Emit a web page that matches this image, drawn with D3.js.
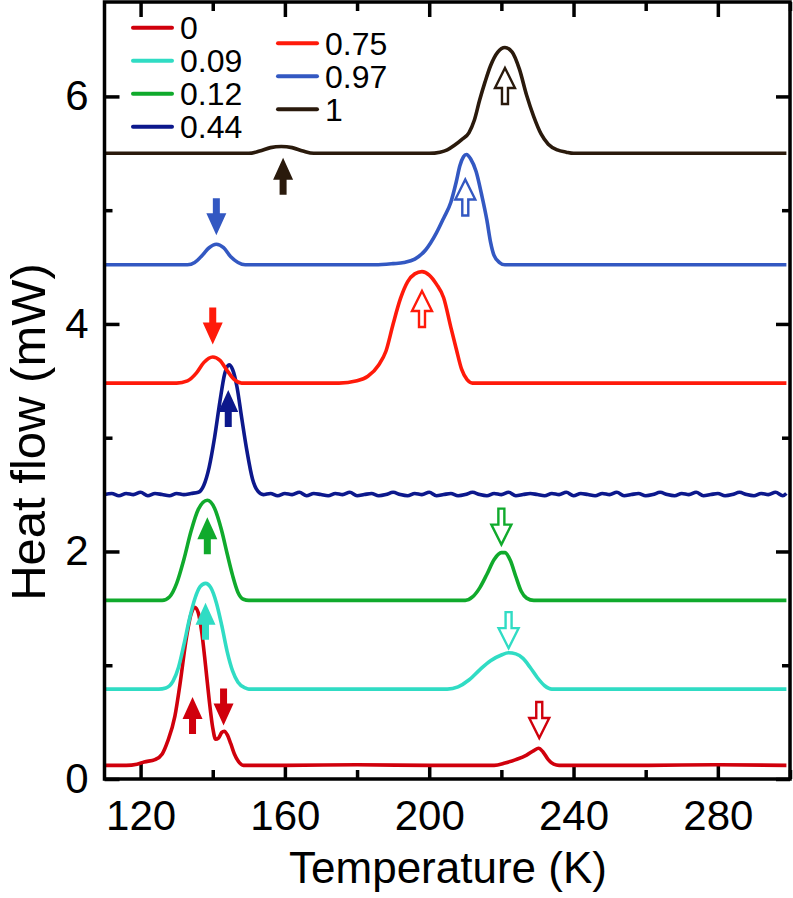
<!DOCTYPE html>
<html>
<head>
<meta charset="utf-8">
<script src="https://cdn.jsdelivr.net/npm/d3@7"></script>
<style>
  body { margin: 0; background: #fff; }
  text { font-family: "Liberation Sans", Arial, sans-serif; fill: #000; }
</style>
</head>
<body>
<svg id="chart" width="793" height="898"></svg>
<script>
// DSC heat flow curves, offset per composition

var labels = ['0', '0.09', '0.12', '0.44', '0.75', '0.97', '1'];
var colors = ['#d0000c', '#30dcc4', '#10aa2c', '#0c188c', '#ff1a0a', '#3358c2', '#2a1a0c'];

var s0 = [[110,0.12],[116,0.12],[119,0.13],[121,0.15],[124,0.17],[126,0.22],[127.5,0.33],[129.5,0.55],[131,0.85],[132.5,1.2],[134,1.45],[135,1.51],[136,1.46],[137,1.28],[138,1.00],[139,0.70],[140,0.45],[140.8,0.35],[141.6,0.36],[142.5,0.41],[143.2,0.42],[144,0.39],[145,0.31],[146,0.22],[147,0.16],[148.5,0.12],[160,0.12],[180,0.125],[200,0.12],[218,0.12],[221,0.14],[224,0.17],[227,0.21],[229,0.25],[230.3,0.27],[231.5,0.24],[233,0.17],[234.5,0.13],[236,0.12],[260,0.12],[280,0.125],[299,0.12]];
var s1 = [[110,0.79],[125,0.79],[127,0.80],[129,0.86],[130.5,0.98],[132,1.18],[133.5,1.40],[135,1.58],[136.5,1.69],[138,1.72],[139.5,1.68],[141,1.55],[142.5,1.35],[144,1.12],[145.5,0.95],[147,0.85],[149,0.80],[150,0.79],[180,0.79],[205,0.79],[208,0.81],[211,0.87],[214,0.96],[217,1.04],[220,1.09],[222,1.11],[224,1.10],[226,1.06],[228,0.98],[230,0.89],[232,0.82],[234,0.79],[260,0.79],[299,0.79]];
var s2 = [[110,1.57],[126,1.57],[128,1.60],[130,1.72],[132,1.93],[134,2.18],[136,2.37],[138.5,2.45],[140.5,2.38],[142.5,2.18],[144,1.98],[145.5,1.79],[147,1.64],[148.5,1.58],[150,1.57],[180,1.57],[210,1.57],[212,1.60],[214,1.68],[216,1.80],[218,1.93],[220,1.99],[221,1.99],[222.5,1.92],[224,1.78],[225.5,1.65],[227,1.59],[229,1.57],[260,1.57],[299,1.57]];
var s3 = [[110,2.50],[112,2.51],[114,2.49],[116,2.51],[118,2.50],[120,2.52],[122,2.49],[124,2.51],[126,2.50],[128,2.49],[130,2.51],[132,2.50],[134,2.51],[136,2.52],[137.5,2.58],[139,2.74],[140.5,3.00],[142,3.32],[143.3,3.56],[144.5,3.64],[145.5,3.60],[146.7,3.45],[148,3.18],[149.5,2.88],[151,2.64],[152.5,2.53],[154,2.50],[156,2.51],[158,2.49],[160,2.51],[162,2.50],[164,2.52],[166,2.49],[168,2.51],[170,2.50],[172,2.49],[174,2.51],[176,2.50],[178,2.52],[180,2.49],[182,2.50],[184,2.51],[186,2.49],[188,2.50],[190,2.52],[192,2.50],[194,2.49],[196,2.51],[198,2.50],[200,2.52],[202,2.49],[204,2.50],[206,2.51],[208,2.49],[210,2.50],[212,2.52],[214,2.50],[216,2.49],[218,2.51],[220,2.50],[222,2.52],[224,2.49],[226,2.50],[228,2.51],[230,2.50],[232,2.49],[234,2.51],[236,2.50],[238,2.52],[240,2.49],[242,2.51],[244,2.50],[246,2.49],[248,2.51],[250,2.50],[252,2.52],[254,2.49],[256,2.50],[258,2.51],[260,2.49],[262,2.50],[264,2.52],[266,2.50],[268,2.49],[270,2.51],[272,2.50],[274,2.52],[276,2.49],[278,2.50],[280,2.51],[282,2.49],[284,2.50],[286,2.52],[288,2.50],[290,2.49],[292,2.51],[294,2.50],[296,2.52],[298,2.49],[299,2.51]];
var s4 = [[110,3.48],[130,3.48],[133,3.50],[135.5,3.57],[137.5,3.66],[140,3.71],[142,3.68],[144,3.59],[146,3.51],[148,3.48],[175,3.48],[180,3.50],[183,3.54],[186,3.64],[188,3.76],[190,4.00],[192,4.22],[194,4.37],[196,4.44],[198,4.46],[200,4.43],[202,4.35],[204,4.23],[206,3.97],[207.5,3.78],[209,3.60],[210.5,3.51],[212,3.48],[250,3.48],[299,3.48]];
var s5 = [[110,4.52],[133,4.52],[135,4.54],[137,4.60],[139,4.67],[141,4.70],[143,4.67],[145,4.59],[147,4.54],[149,4.52],[185,4.52],[190,4.53],[193,4.54],[196,4.57],[199,4.65],[202,4.80],[204,4.93],[206,5.07],[207.5,5.25],[208.5,5.39],[209.5,5.47],[210.3,5.49],[211.5,5.45],[213,5.34],[214.5,5.14],[216,4.91],[217,4.72],[218,4.60],[219.5,4.54],[221,4.52],[260,4.52],[299,4.52]];
var s6 = [[110,5.50],[130,5.50],[150,5.50],[153,5.52],[156,5.55],[159,5.56],[162,5.55],[165,5.52],[168,5.50],[200,5.50],[203,5.51],[205,5.53],[207,5.57],[209,5.62],[211,5.68],[212.5,5.79],[214,5.97],[215.5,6.13],[217,6.27],[219,6.39],[221,6.43],[223,6.39],[225,6.24],[227,6.01],[229,5.82],[231,5.67],[233,5.58],[235.5,5.53],[238,5.51],[240,5.50],[270,5.50],[299,5.50]];
var series = [s0, s1, s2, s3, s4, s5, s6];

// arrows: series index, temperature, tip value, direction (1 up, -1 down), filled
var arrowSeries = [6, 6, 5, 5, 4, 4, 3, 2, 2, 1, 1, 0, 0, 0];
var arrowT      = [159.5, 221, 141, 210, 140, 198, 144.3, 138.5, 220, 138, 222, 134.4, 143, 230.5];
var arrowTip    = [5.46, 6.25, 4.78, 5.27, 3.82, 4.29, 3.42, 2.30, 2.06, 1.55, 1.15, 0.72, 0.47, 0.36];
var arrowDir    = [1, 1, -1, 1, -1, 1, 1, 1, -1, 1, -1, 1, -1, -1];
var arrowFilled = [true, false, true, false, true, false, true, true, false, true, false, true, true, false];

var xMajor = [120, 160, 200, 240, 280];
var xMinor = [140, 180, 220, 260, 300];
var yMajor = [0, 2, 4, 6];
var yMinor = [1, 3, 5];

var svg = d3.select('#chart');
var mLeft = 104.5, mRight = 790, mTop = 2, mBottom = 779;

var x = d3.scaleLinear().domain([110, 300]).range([mLeft, mRight]);
var y = d3.scaleLinear().domain([0, 6.83]).range([mBottom, mTop]);

// minor ticks
svg.append('g').attr('transform', 'translate(0,' + mBottom + ')')
  .call(d3.axisBottom(x).tickValues(xMinor).tickSizeInner(-9).tickSizeOuter(0).tickFormat(''));
svg.append('g').attr('transform', 'translate(0,' + mTop + ')')
  .call(d3.axisTop(x).tickValues(xMinor).tickSizeInner(-9).tickSizeOuter(0).tickFormat(''));
svg.append('g').attr('transform', 'translate(' + mLeft + ',0)')
  .call(d3.axisLeft(y).tickValues(yMinor).tickSizeInner(-8).tickSizeOuter(0).tickFormat(''));
svg.append('g').attr('transform', 'translate(' + mRight + ',0)')
  .call(d3.axisRight(y).tickValues(yMinor).tickSizeInner(-8).tickSizeOuter(0).tickFormat(''));

// major ticks
var xb = svg.append('g').attr('transform', 'translate(0,' + mBottom + ')')
  .call(d3.axisBottom(x).tickValues(xMajor).tickSizeInner(-15).tickSizeOuter(0).tickPadding(21).tickFormat(d3.format('d')));
svg.append('g').attr('transform', 'translate(0,' + mTop + ')')
  .call(d3.axisTop(x).tickValues(xMajor).tickSizeInner(-15).tickSizeOuter(0).tickFormat(''));
var yl = svg.append('g').attr('transform', 'translate(' + mLeft + ',0)')
  .call(d3.axisLeft(y).tickValues(yMajor).tickSizeInner(-15).tickSizeOuter(0).tickPadding(16).tickFormat(d3.format('d')));
svg.append('g').attr('transform', 'translate(' + mRight + ',0)')
  .call(d3.axisRight(y).tickValues(yMajor).tickSizeInner(-14).tickSizeOuter(0).tickFormat(''));

svg.selectAll('.domain').remove();
svg.selectAll('.tick line').attr('stroke', '#000').attr('stroke-width', 3.5);
xb.selectAll('text').style('font-size', '42px').attr('fill', '#000');
yl.selectAll('text').style('font-size', '42px').attr('fill', '#000');

// curves
var line = d3.line()
  .x(function(d) { return x(d[0]); })
  .y(function(d) { return y(d[1]); })
  .curve(d3.curveMonotoneX);

svg.append('g').selectAll('path')
  .data(series)
  .enter()
  .append('path')
  .attr('d', line)
  .attr('fill', 'none')
  .attr('stroke', function(d, i) { return colors[i]; })
  .attr('stroke-width', 3.6)
  .attr('stroke-linejoin', 'round');

// arrows
function arrowPath(px, py, dir, len, hw, hl, sw) {
  // tip at (px, py), dir 1 means pointing up
  var s = dir;
  var pts = [
    [px, py],
    [px + hw / 2, py + s * hl],
    [px + sw / 2, py + s * hl],
    [px + sw / 2, py + s * len],
    [px - sw / 2, py + s * len],
    [px - sw / 2, py + s * hl],
    [px - hw / 2, py + s * hl]
  ];
  return 'M' + pts.map(function(p) { return p[0] + ',' + p[1]; }).join('L') + 'Z';
}

var arrows = arrowT.map(function(t, i) {
  return { t: t, v: arrowTip[i], dir: arrowDir[i], filled: arrowFilled[i], c: colors[arrowSeries[i]] };
});

svg.append('g').selectAll('path')
  .data(arrows)
  .enter()
  .append('path')
  .attr('d', function(d) {
    if (d.filled) return arrowPath(x(d.t), y(d.v), d.dir, 37, 20, 22, 7);
    return arrowPath(x(d.t), y(d.v), d.dir, 36, 20, 20, 6);
  })
  .attr('fill', function(d) { return d.filled ? d.c : '#fff'; })
  .attr('stroke', function(d) { return d.c; })
  .attr('stroke-width', function(d) { return d.filled ? 0 : 2.4; })
  .attr('stroke-linejoin', 'miter');

// frame
svg.append('rect')
  .attr('x', mLeft).attr('y', mTop)
  .attr('width', mRight - mLeft).attr('height', mBottom - mTop)
  .attr('fill', 'none').attr('stroke', '#000').attr('stroke-width', 3.5);

// legend
var legCol = [0, 0, 0, 0, 1, 1, 1];
var legRow = [0, 1, 2, 3, 0, 1, 2];
var legX0 = [133, 278];
var legY0 = [27.7, 43.3];
var leg = svg.append('g').selectAll('g')
  .data(labels)
  .enter()
  .append('g')
  .attr('transform', function(d, i) {
    return 'translate(' + legX0[legCol[i]] + ',' + (legY0[legCol[i]] + legRow[i] * 33) + ')';
  });
leg.append('line')
  .attr('x1', 0).attr('x2', 39).attr('y1', 0).attr('y2', 0)
  .attr('stroke', function(d, i) { return colors[i]; })
  .attr('stroke-width', 4)
  .attr('stroke-linecap', 'round');
leg.append('text')
  .attr('x', 47).attr('y', 0).attr('dy', '0.36em')
  .style('font-size', '32px')
  .text(function(d) { return d; });

// axis titles
svg.append('text')
  .attr('x', 448).attr('y', 883)
  .attr('text-anchor', 'middle')
  .style('font-size', '44px')
  .text('Temperature (K)');

svg.append('text')
  .attr('transform', 'translate(45,432) rotate(-90)')
  .attr('text-anchor', 'middle')
  .style('font-size', '49px')
  .text('Heat flow (mW)');
</script>
</body>
</html>
